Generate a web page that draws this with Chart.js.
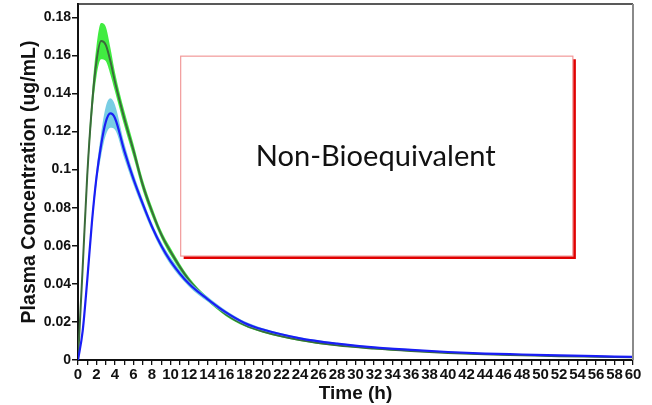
<!DOCTYPE html>
<html>
<head>
<meta charset="utf-8">
<script src="https://cdn.jsdelivr.net/npm/chart.js@4.4.1/dist/chart.umd.min.js"></script>
<style>
  html, body { margin: 0; padding: 0; background: #ffffff; }
  #wrap { width: 652px; height: 405px; position: relative; }
</style>
</head>
<body>
<div id="wrap"><canvas id="c" width="652" height="405"></canvas></div>
<script>
// ---- data ----
const timeH = [0,0.5,1,1.5,2,2.5,3,3.5,4,5,6,7,8,9,10,12,14,16,18,20,24,28,32,36,40,44,48,52,56,60];

const greenMean  = [0,0.048,0.097,0.133,0.157,0.1675,0.1655,0.157,0.146,0.127,0.110,0.092,0.078,0.066,0.057,0.042,0.032,0.024,0.0185,0.015,0.0105,0.0077,0.006,0.0047,0.0037,0.003,0.0025,0.002,0.0017,0.0014];
const greenUpper = [0,0.051,0.101,0.139,0.165,0.177,0.175,0.164,0.151,0.131,0.1135,0.095,0.0805,0.068,0.059,0.0435,0.033,0.025,0.0193,0.0157,0.011,0.0081,0.0063,0.005,0.0039,0.0032,0.0027,0.0022,0.0018,0.0015];
const greenLower = [0,0.045,0.093,0.127,0.149,0.158,0.157,0.150,0.141,0.123,0.1065,0.089,0.0755,0.064,0.055,0.0405,0.031,0.023,0.0177,0.0143,0.010,0.0073,0.0057,0.0044,0.0035,0.0028,0.0023,0.0018,0.0016,0.0013];

const blueMean  = [0,0.015,0.042,0.072,0.096,0.113,0.125,0.1295,0.127,0.110,0.095,0.082,0.070,0.060,0.052,0.040,0.032,0.025,0.0195,0.016,0.0114,0.0086,0.0066,0.0053,0.0042,0.0034,0.0029,0.0024,0.002,0.0016];
const blueUpper = [0,0.016,0.044,0.075,0.100,0.119,0.133,0.1375,0.134,0.114,0.098,0.0845,0.072,0.062,0.054,0.0415,0.0333,0.026,0.0203,0.0167,0.0119,0.009,0.0069,0.0056,0.0044,0.0036,0.0031,0.0026,0.0021,0.0017];
const blueLower = [0,0.014,0.040,0.069,0.092,0.107,0.118,0.122,0.121,0.106,0.092,0.0795,0.068,0.058,0.050,0.0385,0.0307,0.024,0.0187,0.0153,0.0109,0.0082,0.0063,0.005,0.004,0.0032,0.0027,0.0022,0.0019,0.0015];

const xTickStep = 1;       // hours between tick marks
const xLabelEvery = 2;     // label every 2 h
const yTickStep = 0.02;

const boxLabel = "Non-Bioequivalent";
const boxRange = { x0: 11.1, x1: 53.5, y0: 0.0546, y1: 0.1596 };

const xTitle = "Time (h)";
const yTitle = "Plasma Concentration (ug/mL)";

// ---- helpers ----
const pts = arr => timeH.map((t, i) => ({ x: t, y: arr[i] }));

const bandGreen = "rgba(55,235,55,0.95)";
const bandBlue  = "rgba(105,200,225,0.9)";

const framePlugin = {
  id: "frame",
  afterDatasetsDraw(chart) {
    const { ctx, chartArea: a, scales } = chart;
    ctx.save();
    ctx.strokeStyle = "#222";
    ctx.lineWidth = 1.5;
    ctx.beginPath();
    ctx.moveTo(a.left, a.top);
    ctx.lineTo(a.right, a.top);
    ctx.stroke();
    ctx.strokeStyle = "#8a8a8a";
    ctx.lineWidth = 2;
    ctx.beginPath();
    ctx.moveTo(a.right, a.top);
    ctx.lineTo(a.right, a.bottom);
    ctx.stroke();

    const x = scales.x, y = scales.y;
    const L = x.getPixelForValue(boxRange.x0);
    const R = x.getPixelForValue(boxRange.x1);
    const T = y.getPixelForValue(boxRange.y1);
    const B = y.getPixelForValue(boxRange.y0);
    ctx.fillStyle = "#ffffff";
    ctx.fillRect(L, T, R - L, B - T);
    ctx.strokeStyle = "#e00000";
    ctx.lineWidth = 3;
    ctx.beginPath();
    ctx.moveTo(R + 1.5, T + 3);
    ctx.lineTo(R + 1.5, B + 1.5);
    ctx.lineTo(L + 3, B + 1.5);
    ctx.stroke();
    ctx.strokeStyle = "#f29a9a";
    ctx.lineWidth = 1.2;
    ctx.strokeRect(L, T, R - L, B - T);

    ctx.fillStyle = "#111";
    ctx.textAlign = "center";
    ctx.textBaseline = "middle";
    let fs = 26;
    ctx.font = fs + "px Lato, 'Open Sans', sans-serif";
    const w = ctx.measureText(boxLabel).width;
    fs = fs * 240 / w;
    ctx.font = fs.toFixed(2) + "px Lato, 'Open Sans', sans-serif";
    ctx.fillText(boxLabel, (L + R) / 2 - 1, (T + B) / 2 + 1);
    ctx.restore();
  }
};

new Chart(document.getElementById("c"), {
  type: "line",
  data: {
    datasets: [
      { label: "green upper", order: 6, data: pts(greenUpper), borderWidth: 0, pointRadius: 0, backgroundColor: bandGreen, fill: "+1", cubicInterpolationMode: "monotone" },
      { label: "green lower", order: 5, data: pts(greenLower), borderWidth: 0, pointRadius: 0, fill: false, cubicInterpolationMode: "monotone" },
      { label: "green mean", order: 4, data: pts(greenMean), borderColor: "#3b6a3b", borderWidth: 2, pointRadius: 0, fill: false, cubicInterpolationMode: "monotone" },
      { label: "blue upper", order: 3, data: pts(blueUpper), borderWidth: 0, pointRadius: 0, backgroundColor: bandBlue, fill: "+1", cubicInterpolationMode: "monotone" },
      { label: "blue lower", order: 2, data: pts(blueLower), borderWidth: 0, pointRadius: 0, fill: false, cubicInterpolationMode: "monotone" },
      { label: "blue mean", order: 1, data: pts(blueMean), borderColor: "#1a1ef5", borderWidth: 2.2, pointRadius: 0, fill: false, cubicInterpolationMode: "monotone" }
    ]
  },
  options: {
    responsive: false,
    animation: false,
    events: [],
    layout: { padding: { top: 4, right: 19, left: 0, bottom: 0 } },
    plugins: { legend: { display: false }, tooltip: { enabled: false } },
    scales: {
      x: {
        type: "linear",
        min: 0,
        max: 60,
        afterFit(s) { s.height = 45; s.paddingLeft = 0; s.paddingRight = 0; },
        border: { display: true, color: "#111", width: 2 },
        grid: { display: true, drawOnChartArea: false, drawTicks: true, tickLength: 5, color: "#111", lineWidth: 1.3 },
        ticks: {
          stepSize: xTickStep,
          autoSkip: false,
          maxRotation: 0,
          minRotation: 0,
          padding: 1,
          color: "#111",
          font: { family: "'Liberation Sans', Arial, sans-serif", size: 15, weight: "bold" },
          callback: v => (Math.round(v) % xLabelEvery === 0 ? String(v) : "")
        },
        title: {
          display: true,
          text: xTitle,
          color: "#111",
          padding: 0,
          font: { family: "'Liberation Sans', Arial, sans-serif", size: 19, weight: "bold" }
        }
      },
      y: {
        type: "linear",
        min: 0,
        max: 0.187,
        afterFit(s) { s.width = 78; s.paddingTop = 0; s.paddingBottom = 0; },
        border: { display: true, color: "#111", width: 2 },
        grid: { display: true, drawOnChartArea: false, drawTicks: true, tickLength: 6, color: "#111", lineWidth: 1.5 },
        ticks: {
          stepSize: yTickStep,
          includeBounds: false,
          padding: 1,
          color: "#111",
          font: { family: "'Liberation Sans', Arial, sans-serif", size: 14, weight: "bold" },
          callback: v => String(parseFloat(v.toFixed(2)))
        },
        title: {
          display: true,
          text: yTitle,
          color: "#111",
          padding: 18,
          font: { family: "'Liberation Sans', Arial, sans-serif", size: 19.5, weight: "bold" }
        }
      }
    }
  },
  plugins: [framePlugin]
});
</script>
</body>
</html>
